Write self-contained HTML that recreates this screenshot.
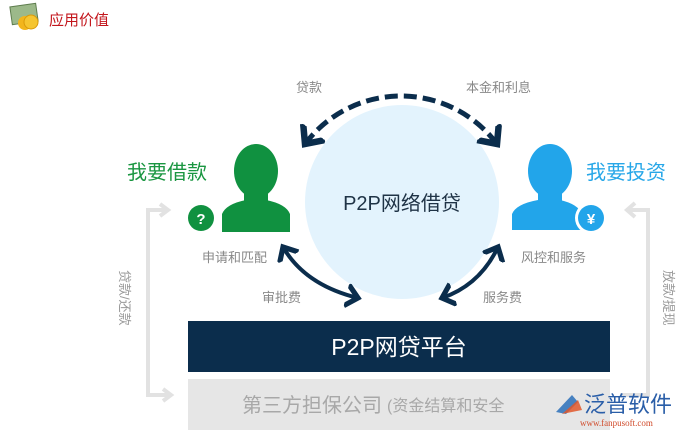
<!DOCTYPE html>
<html><head><meta charset="utf-8"><style>
body{margin:0;background:#fff;width:683px;height:437px;overflow:hidden;font-family:"Liberation Sans","Noto Sans CJK SC",sans-serif}
</style></head><body>
<svg width="683" height="437" xmlns="http://www.w3.org/2000/svg" font-family="Liberation Sans, Noto Sans CJK SC, sans-serif">
<defs>
<marker id="ah" markerWidth="7" markerHeight="7" refX="3" refY="3" orient="auto" markerUnits="strokeWidth"><path d="M0,0.3 L3,3 L0,5.7" fill="none" stroke="#0b2d4c" stroke-width="1.3"/></marker>
<marker id="as" markerWidth="7" markerHeight="7" refX="3" refY="3" orient="auto-start-reverse" markerUnits="strokeWidth"><path d="M0,0.3 L3,3 L0,5.7" fill="none" stroke="#0b2d4c" stroke-width="1.3"/></marker>
</defs>
<rect x="11" y="5" width="26" height="18" fill="#9cb98a" stroke="#5e7d4e" transform="rotate(-8 24 14)"/>
<circle cx="25" cy="23" r="7" fill="#f2b51c"/><circle cx="31" cy="22" r="7" fill="#f5c530" stroke="#d99a0a"/>
<text x="49" y="25" font-size="15" fill="#c3161c">应用价值</text>
<path d="M165,210 H148 V395 H170" fill="none" stroke="#e2e2e2" stroke-width="4"/>
<path d="M163,401 L171,395 L163,389" fill="none" stroke="#e2e2e2" stroke-width="4"/>
<path d="M160,204 L168,210 L160,216" fill="none" stroke="#e2e2e2" stroke-width="4"/>
<path d="M628,210 H648 V395 H620" fill="none" stroke="#e2e2e2" stroke-width="4"/>
<path d="M635,203 L627,210 L635,217" fill="none" stroke="#e2e2e2" stroke-width="4"/>
<text font-size="13" fill="#999" transform="translate(120,270) rotate(90)">贷款/还款</text>
<text font-size="13" fill="#999" transform="translate(664,270) rotate(90)">放款/提现</text>
<circle cx="402" cy="202" r="97" fill="#e3f3fd"/>
<text x="402" y="210" font-size="20" fill="#1f3346" text-anchor="middle">P2P网络借贷</text>
<path d="M305,144 A120,120 0 0 1 497,144" fill="none" stroke="#0b2d4c" stroke-width="5" stroke-dasharray="13,6" marker-end="url(#ah)" marker-start="url(#as)"/>
<text x="296" y="92" font-size="13" fill="#888">贷款</text>
<text x="466" y="92" font-size="13" fill="#888">本金和利息</text>
<path d="M283,247 Q305,285 358,298" fill="none" stroke="#0b2d4c" stroke-width="4" marker-end="url(#ah)" marker-start="url(#as)"/>
<path d="M498,247 Q480,285 442,298" fill="none" stroke="#0b2d4c" stroke-width="4" marker-end="url(#ah)" marker-start="url(#as)"/>
<text x="262" y="302" font-size="13" fill="#888">审批费</text>
<text x="483" y="302" font-size="13" fill="#888">服务费</text>
<g fill="#109140">
<ellipse cx="256" cy="171" rx="22" ry="27"/>
<rect x="244" y="190" width="24" height="18"/>
<path d="M222,232 L222,214 Q226,204 246,200 L266,200 Q286,204 290,214 L290,232 Z"/>
</g>
<circle cx="201" cy="218" r="16" fill="#fff"/><circle cx="201" cy="218" r="13" fill="#109140"/>
<text x="201" y="224" font-size="15" font-weight="bold" fill="#fff" text-anchor="middle">?</text>
<text x="127" y="179" font-size="20" fill="#1a9641">我要借款</text>
<text x="202" y="262" font-size="13" fill="#888">申请和匹配</text>
<g fill="#22a5ea">
<ellipse cx="550" cy="171" rx="22" ry="27"/>
<rect x="538" y="190" width="24" height="18"/>
<path d="M512,230 L512,214 Q516,204 538,200 L560,200 Q578,204 582,214 L582,230 Z"/>
</g>
<circle cx="591" cy="218" r="16" fill="#fff"/><circle cx="591" cy="218" r="13" fill="#22a5ea"/>
<text x="591" y="224" font-size="15" font-weight="bold" fill="#fff" text-anchor="middle">¥</text>
<text x="586" y="179" font-size="20" fill="#27a7e8">我要投资</text>
<text x="521" y="262" font-size="13" fill="#888">风控和服务</text>
<rect x="188" y="321" width="422" height="51" fill="#0b2d4c"/>
<text x="399" y="355" font-size="23" fill="#fff" text-anchor="middle">P2P网贷平台</text>
<rect x="188" y="379" width="422" height="51" fill="#e6e6e6"/>
<text x="242" y="412" font-size="20" fill="#a8a8a8">第三方担保公司</text>
<text x="387" y="411" font-size="16" fill="#a8a8a8">(资金结算和安全</text>
<path d="M556,412 L572,395 L578,402 L566,414 Z" fill="#2a6fb8" opacity="0.85"/>
<path d="M562,414 L578,400 L582,410 Z" fill="#e0572a" opacity="0.85"/>
<text x="584" y="412" font-size="22" fill="#2a5ea8">泛普软件</text>
<text x="580" y="426" font-size="9" fill="#d04a2a" font-family="Liberation Serif, serif">www.fanpusoft.com</text>
</svg>
</body></html>
